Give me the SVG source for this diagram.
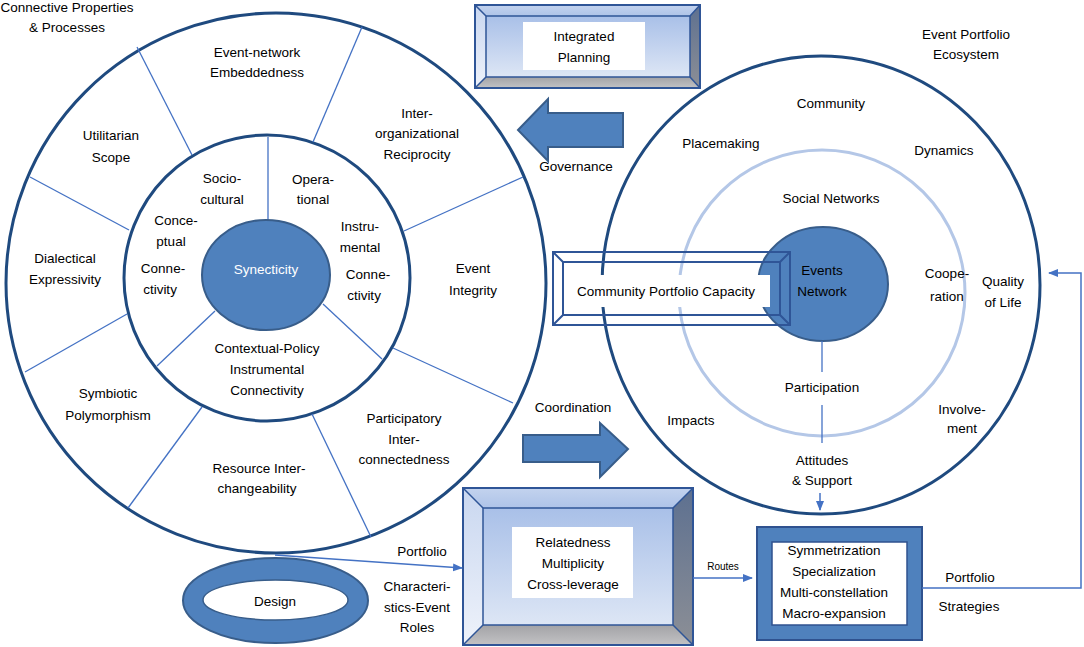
<svg xmlns="http://www.w3.org/2000/svg" width="1084" height="647" viewBox="0 0 1084 647">
<style>
.t{font-family:"Liberation Sans",Arial,sans-serif;font-size:13.5px;fill:#000;text-anchor:middle}
.w{fill:#fff}
.ring{fill:none;stroke:#1f4a7f;stroke-width:3}
.rad{stroke:#4472c4;stroke-width:1.3;fill:none}
.blob{fill:#4f81bd;stroke:#385d8a;stroke-width:2}
.edge{fill:none;stroke:#2f5597;stroke-width:2}
.conn{stroke:#4472c4;stroke-width:1.5;fill:none}
</style>
<defs>
<marker id="ah" markerWidth="10" markerHeight="10" refX="9" refY="5" orient="auto" markerUnits="userSpaceOnUse">
<path d="M0,1 L10,5 L0,9 z" fill="#4472c4"/>
</marker>
<linearGradient id="face" x1="0" y1="0" x2="0" y2="1">
<stop offset="0" stop-color="#a9c0e8"/><stop offset="1" stop-color="#dde6f5"/>
</linearGradient>
<linearGradient id="topb" x1="0" y1="0" x2="0" y2="1">
<stop offset="0" stop-color="#c3d3ee"/><stop offset="1" stop-color="#aec3e8"/>
</linearGradient>
<linearGradient id="leftb" x1="0" y1="0" x2="0" y2="1">
<stop offset="0" stop-color="#c9d7f0"/><stop offset="1" stop-color="#eef2fa"/>
</linearGradient>
<linearGradient id="rightb" x1="0" y1="0" x2="0" y2="1">
<stop offset="0" stop-color="#5d7090"/><stop offset="1" stop-color="#8c8f96"/>
</linearGradient>
<linearGradient id="botb" x1="0" y1="0" x2="0" y2="1">
<stop offset="0" stop-color="#a3a3a6"/><stop offset="1" stop-color="#c2c2c4"/>
</linearGradient>
</defs>

<rect width="1084" height="647" fill="#fff"/>

<!-- Left circle: connective properties -->
<g id="left-circle">
<circle class="ring" cx="276" cy="283" r="270"/>
<circle class="ring" cx="267" cy="278" r="143"/>
<line class="rad" x1="137" y1="47" x2="192" y2="155"/>
<line class="rad" x1="362" y1="27" x2="313" y2="142"/>
<line class="rad" x1="523" y1="177" x2="404" y2="231"/>
<line class="rad" x1="513" y1="403" x2="393" y2="348"/>
<line class="rad" x1="371" y1="537" x2="312" y2="414"/>
<line class="rad" x1="128" y1="508" x2="202" y2="407"/>
<line class="rad" x1="25" y1="372" x2="127" y2="314"/>
<line class="rad" x1="30" y1="177" x2="129" y2="230"/>
<line class="rad" x1="268" y1="137" x2="268" y2="220"/>
<line class="rad" x1="215" y1="311" x2="157" y2="366"/>
<line class="rad" x1="323" y1="304" x2="382" y2="359"/>
<text class="t" x="67" y="12">Connective Properties</text>
<text class="t" x="67" y="32">&amp; Processes</text>
<text class="t" x="257" y="57">Event-network</text>
<text class="t" x="257" y="77">Embeddedness</text>
<text class="t" x="417" y="118">Inter-</text>
<text class="t" x="417" y="138">organizational</text>
<text class="t" x="417" y="159">Reciprocity</text>
<text class="t" x="111" y="140">Utilitarian</text>
<text class="t" x="111" y="162">Scope</text>
<text class="t" x="222" y="183">Socio-</text>
<text class="t" x="222" y="204">cultural</text>
<text class="t" x="313" y="184">Opera-</text>
<text class="t" x="313" y="204">tional</text>
<text class="t" x="176" y="225">Conce-</text>
<text class="t" x="171" y="246">ptual</text>
<text class="t" x="360" y="231">Instru-</text>
<text class="t" x="360" y="252">mental</text>
<text class="t" x="163" y="273">Conne-</text>
<text class="t" x="160" y="294">ctivity</text>
<text class="t" x="368" y="279">Conne-</text>
<text class="t" x="364" y="300">ctivity</text>
<text class="t" x="65" y="263">Dialectical</text>
<text class="t" x="65" y="284">Expressivity</text>
<text class="t" x="473" y="273">Event</text>
<text class="t" x="473" y="295">Integrity</text>
<text class="t" x="267" y="353">Contextual-Policy</text>
<text class="t" x="267" y="374">Instrumental</text>
<text class="t" x="267" y="395">Connectivity</text>
<text class="t" x="108" y="398">Symbiotic</text>
<text class="t" x="108" y="420">Polymorphism</text>
<text class="t" x="404" y="423">Participatory</text>
<text class="t" x="404" y="444">Inter-</text>
<text class="t" x="404" y="464">connectedness</text>
<text class="t" x="259" y="473">Resource Inter-</text>
<text class="t" x="257" y="493">changeability</text>
</g>

<g id="synecticity">
<ellipse class="blob" cx="266" cy="275" rx="64" ry="55"/>
<text class="t w" x="266" y="274">Synecticity</text>
</g>

<!-- Right circle: event portfolio ecosystem -->
<g id="right-circle">
<ellipse class="ring" cx="821" cy="285" rx="219" ry="229"/>
<circle cx="822" cy="293" r="143" fill="none" stroke="#b4c7e7" stroke-width="3"/>
<text class="t" x="966" y="39">Event Portfolio</text>
<text class="t" x="966" y="59">Ecosystem</text>
<text class="t" x="831" y="108">Community</text>
<text class="t" x="721" y="148">Placemaking</text>
<text class="t" x="944" y="155">Dynamics</text>
<text class="t" x="831" y="203">Social Networks</text>
<text class="t" x="947" y="278">Coope-</text>
<text class="t" x="947" y="301">ration</text>
<text class="t" x="1003" y="286">Quality</text>
<text class="t" x="1003" y="307">of Life</text>
<text class="t" x="822" y="392">Participation</text>
<text class="t" x="691" y="425">Impacts</text>
<text class="t" x="962" y="414">Involve-</text>
<text class="t" x="962" y="433">ment</text>
<text class="t" x="822" y="465">Attitudes</text>
<text class="t" x="822" y="485">&amp; Support</text>
</g>

<g id="events-network">
<ellipse class="blob" cx="823" cy="284" rx="65" ry="57"/>
<text class="t" x="822" y="275">Events</text>
<text class="t" x="822" y="296">Network</text>
</g>

<g id="community-portfolio-capacity">
<rect x="565" y="275" width="205" height="32" fill="#fff"/>
<rect class="edge" x="553" y="252" width="237" height="73"/>
<rect class="edge" x="563" y="262" width="217" height="53"/>
<path class="edge" d="M553,252 L563,262 M790,252 L780,262 M553,325 L563,315 M790,325 L780,315"/>
<text class="t" x="666" y="296">Community Portfolio Capacity</text>
</g>

<g id="integrated-planning">
<polygon points="475,5 700,5 690,16 486,16" fill="url(#topb)"/>
<polygon points="475,5 486,16 486,77 475,88" fill="url(#leftb)"/>
<polygon points="700,5 700,88 690,77 690,16" fill="url(#rightb)"/>
<polygon points="475,88 486,77 690,77 700,88" fill="url(#botb)"/>
<rect x="486" y="16" width="204" height="61" fill="url(#face)"/>
<rect class="edge" x="475" y="5" width="225" height="83"/>
<rect x="486" y="16" width="204" height="61" fill="none" stroke="#2f5597" stroke-width="1.5"/>
<path d="M475,5 L486,16 M700,5 L690,16 M475,88 L486,77 M700,88 L690,77" stroke="#2f5597" stroke-width="1.5"/>
<rect x="523" y="22" width="122" height="48" fill="#fff"/>
<text class="t" x="584" y="41">Integrated</text>
<text class="t" x="584" y="62">Planning</text>
</g>

<g id="relatedness">
<polygon points="463,488 693,488 673,508 483,508" fill="url(#topb)"/>
<polygon points="463,488 483,508 483,625 463,645" fill="url(#leftb)"/>
<polygon points="693,488 693,645 673,625 673,508" fill="url(#rightb)"/>
<polygon points="463,645 483,625 673,625 693,645" fill="url(#botb)"/>
<rect x="483" y="508" width="190" height="117" fill="url(#face)"/>
<rect class="edge" x="463" y="488" width="230" height="157"/>
<rect x="483" y="508" width="190" height="117" fill="none" stroke="#2f5597" stroke-width="1.5"/>
<path d="M463,488 L483,508 M693,488 L673,508 M463,645 L483,625 M693,645 L673,625" stroke="#2f5597" stroke-width="1.5"/>
<rect x="512" y="527" width="121" height="71" fill="#fff"/>
<text class="t" x="573" y="547">Relatedness</text>
<text class="t" x="573" y="568">Multiplicity</text>
<text class="t" x="573" y="589">Cross-leverage</text>
</g>

<g id="strategies">
<rect x="757" y="527" width="165" height="113" fill="#4f81bd" stroke="#2f528f" stroke-width="2"/>
<rect x="772" y="542" width="135" height="83" fill="#fff" stroke="#2f528f" stroke-width="1.5"/>
<text class="t" x="834" y="555">Symmetrization</text>
<text class="t" x="834" y="576">Specialization</text>
<text class="t" x="834" y="597">Multi-constellation</text>
<text class="t" x="834" y="618">Macro-expansion</text>
</g>

<g id="design">
<ellipse cx="275.5" cy="600.5" rx="92.5" ry="42.5" fill="#4f81bd" stroke="#385d8a" stroke-width="2"/>
<ellipse cx="275.5" cy="600" rx="72.5" ry="20" fill="#fff" stroke="#385d8a" stroke-width="1.5"/>
<text class="t" x="275" y="606">Design</text>
</g>

<g id="governance-arrow">
<polygon class="blob" points="518,130 548,99 548,113 623,113 623,147 548,147 548,161"/>
<text class="t" x="576" y="171">Governance</text>
</g>

<g id="coordination-arrow">
<polygon class="blob" points="523,435 600,435 600,423 628,449 600,477 600,462 523,462"/>
<text class="t" x="573" y="412">Coordination</text>
</g>

<g id="connectors">
<line class="rad" x1="822" y1="341" x2="822" y2="372"/>
<line class="rad" x1="822" y1="405" x2="822" y2="443"/>
<line class="conn" x1="820" y1="493" x2="820" y2="510" marker-end="url(#ah)"/>
<line class="conn" x1="275" y1="555" x2="462" y2="568" marker-end="url(#ah)"/>
<line class="conn" x1="693" y1="578" x2="752" y2="578" marker-end="url(#ah)"/>
<path class="conn" d="M922,588 H1081 V273 H1049" marker-end="url(#ah)"/>
<text class="t" x="422" y="556">Portfolio</text>
<text class="t" x="417" y="591">Characteri-</text>
<text class="t" x="417" y="612">stics-Event</text>
<text class="t" x="417" y="632">Roles</text>
<text class="t" x="723" y="570" style="font-size:10px">Routes</text>
<text class="t" x="970" y="582">Portfolio</text>
<text class="t" x="969" y="611">Strategies</text>
</g>
</svg>
